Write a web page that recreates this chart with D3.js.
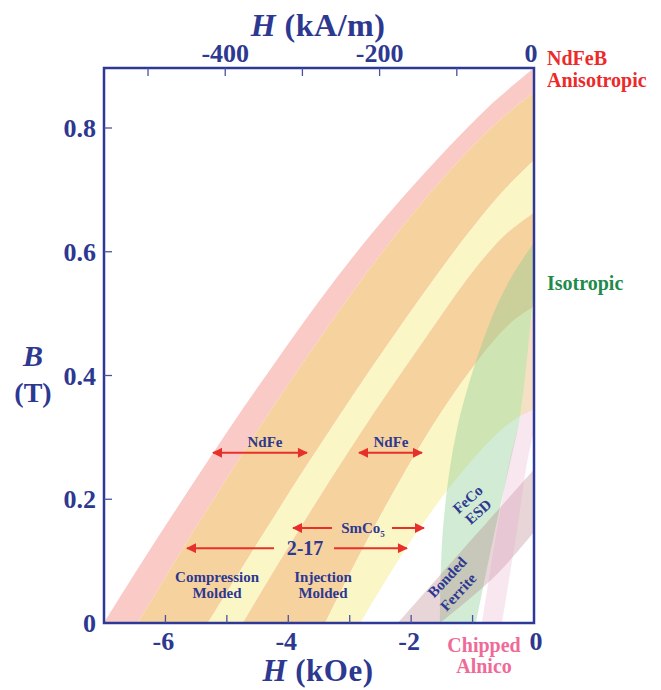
<!DOCTYPE html>
<html>
<head>
<meta charset="utf-8">
<script src="https://cdn.jsdelivr.net/npm/d3@7"></script>
<style>
  html, body { margin: 0; padding: 0; background: #fff; }
  svg { display: block; }
  text { font-family: "Liberation Serif", "Times New Roman", serif; font-weight: bold; }
</style>
</head>
<body>
<svg id="chart" width="661" height="690"></svg>
<script>
// ---- Demagnetization band boundaries, [H (kOe), B (T)] ----
// Compression molded NdFe (outer edge)
const edgeNdCompOuter = [[-7.0,0],[-6.3,0.111],[-5.6,0.218],[-4.9,0.323],[-4.2,0.423],[-3.5,0.520],[-2.8,0.610],[-2.1,0.692],[-1.4,0.768],[-0.7,0.838],[0,0.897]];
// Compression molded 2-17 (outer edge)
const edgeSmCompOuter = [[-6.45,0],[-5.805,0.106],[-5.16,0.209],[-4.515,0.309],[-3.87,0.405],[-3.225,0.497],[-2.58,0.585],[-1.935,0.666],[-1.29,0.740],[-0.645,0.805],[0,0.858]];
// Compression molded NdFe (inner edge)
const edgeNdCompInner = [[-5.31,0],[-4.779,0.085],[-4.248,0.169],[-3.717,0.252],[-3.186,0.332],[-2.655,0.411],[-2.124,0.487],[-1.593,0.561],[-1.062,0.631],[-0.531,0.695],[0,0.748]];
// Compression 2-17 inner edge / injection molded outer edge
const edgeInjOuter = [[-4.74,0],[-4.266,0.079],[-3.792,0.156],[-3.318,0.231],[-2.844,0.304],[-2.37,0.374],[-1.896,0.442],[-1.422,0.510],[-0.948,0.574],[-0.474,0.627],[0,0.663]];
// Injection molded NdFe (inner edge)
const edgeNdInjInner = [[-3.40,0],[-3.06,0.068],[-2.72,0.133],[-2.38,0.195],[-2.04,0.255],[-1.70,0.311],[-1.36,0.363],[-1.02,0.410],[-0.68,0.453],[-0.34,0.488],[0,0.511]];
// Injection molded SmCo (inner edge)
const edgeSmInjInner = [[-2.83,0],[-2.547,0.047],[-2.264,0.093],[-1.981,0.136],[-1.698,0.176],[-1.415,0.214],[-1.132,0.249],[-0.849,0.281],[-0.566,0.309],[-0.283,0.331],[0,0.345]];

// Isotropic / FeCo ESD region
const edgeIsoLeft  = [[-1.53,0],[-1.482,0.152],[-1.254,0.313],[-0.765,0.474],[-0.391,0.555],[0,0.615]];
const edgeIsoRight = [[-0.944,0],[-0.635,0.150],[-0.391,0.258],[-0.228,0.333],[-0.065,0.475],[0,0.540]];
// Bonded ferrite
const edgeFerriteUpper = [[-2.214,0],[-1.156,0.119],[0,0.248]];
const edgeFerriteLower = [[-1.53,0],[-0.64,0.075],[0,0.147]];
// Chipped Alnico
const edgeAlnicoLeft  = [[-0.847,0],[-0.603,0.150],[-0.407,0.258],[-0.228,0.333],[-0.065,0.475],[0,0.520]];
const edgeAlnicoRight = [[-0.521,0],[-0.277,0.150],[-0.114,0.258],[0,0.310]];

// ---- Axis ticks ----
const bTicks = [0, 0.2, 0.4, 0.6, 0.8];
const hOeTicks = [-6, -5, -4, -3, -2, -1];
const hOeLabels = [-6, -4, -2, 0];
const hAmTicks = [-500, -400, -300, -200, -100];
const hAmLabels = [-400, -200, 0];

// ---- Range arrows: [H from, H to, B level] ----
const arrowsNdFe = [[-5.226, -3.696, 0.275], [-2.849, -1.823, 0.275]];
const arrowsSmCo5 = [[-3.288, -3.923, 0.1535], [-2.312, -1.791, 0.1535]];
const arrows217 = [[-4.233, -5.649, 0.121], [-3.256, -2.068, 0.121]];

// ---- Text annotations: [text, H, B (centre), size, rotation] ----
const plotLabels = [
  ["NdFe", -4.379, 0.2925, 15, 0],
  ["NdFe", -2.328, 0.2925, 15, 0],
  ["2-17", -3.728, 0.121, 20, 0],
  ["Compression", -5.16, 0.0743, 15, 0],
  ["Molded", -5.16, 0.0485, 15, 0],
  ["Injection", -3.435, 0.0743, 15, 0],
  ["Molded", -3.435, 0.0485, 15, 0],
  ["FeCo", -1.08, 0.200, 15, -42],
  ["ESD", -0.91, 0.180, 15, -42],
  ["Bonded", -1.416, 0.0743, 15, -47],
  ["Ferrite", -1.237, 0.050, 15, -47]
];

const KOE_TO_KAM = 79.577;

const svg = d3.select("#chart");
const plotLeft = 104, plotRight = 534, plotTop = 68, plotBottom = 623;

const x = d3.scaleLinear().domain([-7, 0]).range([plotLeft, plotRight]);
const y = d3.scaleLinear().domain([0, 0.8]).range([plotBottom, 128]);
const xTop = d3.scaleLinear().domain([-7 * KOE_TO_KAM, 0]).range([plotLeft, plotRight]);

const navy = "#2d3890";
const axisColor = "#2e3896";
const arrowRed = "#e8302a";

const defs = svg.append("defs");
defs.append("clipPath").attr("id", "plotClip")
  .append("rect").attr("x", plotLeft).attr("y", plotTop)
  .attr("width", plotRight - plotLeft).attr("height", plotBottom - plotTop);

const marker = defs.append("marker")
  .attr("id", "arrowHead").attr("viewBox", "0 0 10 10")
  .attr("refX", 9).attr("refY", 5)
  .attr("markerWidth", 6).attr("markerHeight", 5)
  .attr("markerUnits", "strokeWidth")
  .attr("orient", "auto-start-reverse");
marker.append("path").attr("d", "M0,0 L10,5 L0,10 Z").attr("fill", arrowRed);

const lineGen = d3.line().x(d => x(d[0])).y(d => y(d[1])).curve(d3.curveCatmullRom.alpha(0.5));
function bandPath(a, b) {
  return lineGen(a) + lineGen(b.slice().reverse()).replace(/^M/, "L") + "Z";
}

const plot = svg.append("g").attr("clip-path", "url(#plotClip)");

const pink = "#f9cac6", orange = "#f6d29e", yellow = "#fbf6c6";
const bands = [
  [edgeNdCompOuter, edgeSmCompOuter, pink],
  [edgeSmCompOuter, edgeNdCompInner, orange],
  [edgeNdCompInner, edgeInjOuter, yellow],
  [edgeInjOuter, edgeNdInjInner, orange],
  [edgeNdInjInner, edgeSmInjInner, yellow]
];
plot.selectAll("path.band").data(bands).join("path")
  .attr("class", "band")
  .attr("d", d => bandPath(d[0], d[1]))
  .attr("fill", d => d[2]);

// translucent overlays
plot.append("path").attr("d", bandPath(edgeIsoLeft, edgeIsoRight))
  .attr("fill", "rgb(140,205,150)").attr("fill-opacity", 0.4);
plot.append("path").attr("d", bandPath(edgeFerriteUpper, edgeFerriteLower))
  .attr("fill", "rgb(175,115,125)").attr("fill-opacity", 0.3);
plot.append("path").attr("d", bandPath(edgeAlnicoLeft, edgeAlnicoRight))
  .attr("fill", "rgb(230,160,195)").attr("fill-opacity", 0.25);

// range arrows
const arrowG = svg.append("g");
arrowsNdFe.forEach(a => {
  arrowG.append("line")
    .attr("x1", x(a[0])).attr("x2", x(a[1])).attr("y1", y(a[2])).attr("y2", y(a[2]))
    .attr("stroke", arrowRed).attr("stroke-width", 2)
    .attr("marker-start", "url(#arrowHead)").attr("marker-end", "url(#arrowHead)");
});
[...arrowsSmCo5, ...arrows217].forEach(a => {
  arrowG.append("line")
    .attr("x1", x(a[0])).attr("x2", x(a[1])).attr("y1", y(a[2])).attr("y2", y(a[2]))
    .attr("stroke", arrowRed).attr("stroke-width", 2)
    .attr("marker-end", "url(#arrowHead)");
});

// in-plot labels
svg.append("g").selectAll("text").data(plotLabels).join("text")
  .attr("transform", d => `translate(${x(d[1])},${y(d[2])})` + (d[4] ? ` rotate(${d[4]})` : ""))
  .attr("dy", "0.35em")
  .attr("text-anchor", "middle").attr("font-size", d => d[3]).attr("fill", navy)
  .text(d => d[0]);
const sm = svg.append("text")
  .attr("transform", `translate(${x(-2.784)},${y(0.1535)})`)
  .attr("dy", "0.35em").attr("text-anchor", "middle").attr("font-size", 15).attr("fill", navy);
sm.append("tspan").text("SmCo");
sm.append("tspan").attr("font-size", 9).attr("dy", 4).text("5");

// frame
svg.append("rect").attr("x", plotLeft).attr("y", plotTop)
  .attr("width", plotRight - plotLeft).attr("height", plotBottom - plotTop)
  .attr("fill", "none").attr("stroke", axisColor).attr("stroke-width", 2.5);

// ticks (inward)
const tickG = svg.append("g").attr("stroke", "#4a52a0").attr("stroke-width", 1.3);
bTicks.filter(v => v > 0).forEach(v => {
  tickG.append("line").attr("x1", plotLeft).attr("x2", plotLeft + 8).attr("y1", y(v)).attr("y2", y(v));
});
hOeTicks.forEach(v => {
  tickG.append("line").attr("x1", x(v)).attr("x2", x(v)).attr("y1", plotBottom).attr("y2", plotBottom - 8);
});
hAmTicks.forEach(v => {
  tickG.append("line").attr("x1", xTop(v)).attr("x2", xTop(v)).attr("y1", plotTop).attr("y2", plotTop + 8);
});

// tick labels
const fmtB = d => d === 0 ? "0" : d3.format(".1f")(d);
svg.append("g").selectAll("text").data(bTicks).join("text")
  .attr("x", plotLeft - 8).attr("y", d => y(d) + 9)
  .attr("text-anchor", "end").attr("font-size", 26).attr("fill", navy)
  .text(fmtB);
svg.append("g").selectAll("text").data(hOeLabels).join("text")
  .attr("x", d => x(d) + (d === 0 ? 2 : -2)).attr("y", 650)
  .attr("text-anchor", "middle").attr("font-size", 26).attr("fill", navy)
  .text(d => d);
svg.append("g").selectAll("text").data(hAmLabels).join("text")
  .attr("x", d => xTop(d) - (d === 0 ? 3 : 0)).attr("y", 62)
  .attr("text-anchor", "middle").attr("font-size", 26).attr("fill", navy)
  .text(d => d);

// axis titles
const tTop = svg.append("text").attr("x", 318).attr("y", 36).attr("text-anchor", "middle")
  .attr("font-size", 32).attr("fill", navy).attr("letter-spacing", 0.5);
tTop.append("tspan").attr("font-style", "italic").text("H");
tTop.append("tspan").text(" (kA/m)");
const tBot = svg.append("text").attr("x", 318).attr("y", 681).attr("text-anchor", "middle")
  .attr("font-size", 31).attr("fill", navy).attr("letter-spacing", 0.5);
tBot.append("tspan").attr("font-style", "italic").text("H");
tBot.append("tspan").text(" (kOe)");
svg.append("text").attr("x", 33).attr("y", 366).attr("text-anchor", "middle")
  .attr("font-size", 30).attr("font-style", "italic").attr("fill", navy).text("B");
svg.append("text").attr("x", 33).attr("y", 402).attr("text-anchor", "middle")
  .attr("font-size", 28).attr("fill", navy).text("(T)");

// material labels outside the frame
svg.append("text").attr("x", 547).attr("y", 65).attr("font-size", 20).attr("fill", "#ec2a2a").text("NdFeB");
svg.append("text").attr("x", 547).attr("y", 87).attr("font-size", 20).attr("fill", "#ec2a2a").text("Anisotropic");
svg.append("text").attr("x", 547).attr("y", 290).attr("font-size", 20).attr("fill", "#1f8a4c").text("Isotropic");
svg.append("text").attr("x", 484).attr("y", 652).attr("text-anchor", "middle").attr("font-size", 20).attr("fill", "#ef6a98").text("Chipped");
svg.append("text").attr("x", 484).attr("y", 673).attr("text-anchor", "middle").attr("font-size", 20).attr("fill", "#ef6a98").text("Alnico");
</script>
</body>
</html>
